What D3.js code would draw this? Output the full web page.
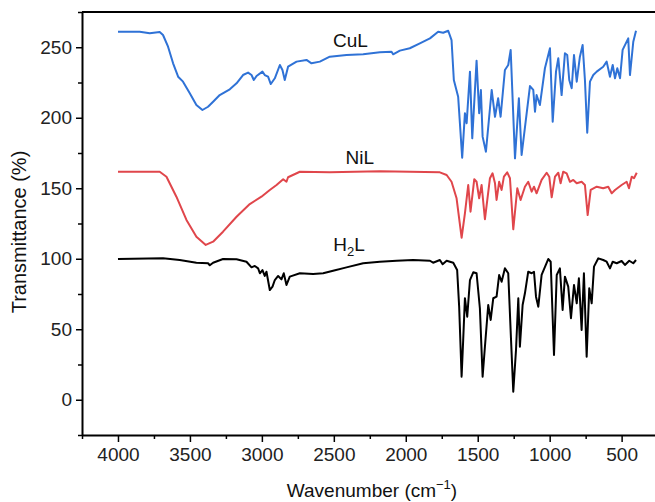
<!DOCTYPE html>
<html lang="en">
<head>
    <meta charset="UTF-8">
    <title>IR spectra</title>
    <script src="https://cdn.jsdelivr.net/npm/d3@7"></script>
    <style>
        body { margin: 0; background: #fff; }
        text { font-family: "Liberation Sans", Arial, sans-serif; }
    </style>
</head>
<body>
    <div id="chart"></div>

    <script>
        // spectra: [wavenumber, transmittance]
        const cuL = [[4000,261.0],[3849,261.0],[3779,259.9],[3710,260.8],[3687,258.7],[3652,250.4],[3617,238.6],[3582,229.1],[3548,225.6],[3501,217.3],[3455,209.1],[3413,205.5],[3374,207.8],[3339,211.4],[3293,216.1],[3223,220.2],[3176,224.4],[3131,230.3],[3096,232.0],[3072,230.3],[3056,226.8],[3037,229.6],[2996,232.7],[2980,230.3],[2957,229.1],[2938,223.9],[2910,228.0],[2875,237.4],[2857,233.9],[2841,226.8],[2818,236.2],[2759,239.8],[2690,241.0],[2655,238.6],[2597,239.8],[2528,243.3],[2412,244.5],[2296,245.0],[2180,246.4],[2099,246.8],[2088,245.0],[2041,247.6],[1972,249.3],[1902,252.8],[1832,256.3],[1775,261.0],[1740,260.3],[1705,261.7],[1682,255.1],[1666,226.8],[1636,214.9],[1608,171.7],[1589,203.2],[1577,196.1],[1554,232.7],[1538,185.4],[1508,240.5],[1490,203.2],[1478,219.7],[1466,186.6],[1443,175.9],[1403,219.7],[1380,200.7],[1358,213.8],[1341,200.7],[1311,233.9],[1288,237.4],[1271,248.1],[1241,171.2],[1214,213.8],[1195,173.6],[1137,222.5],[1114,219.7],[1102,204.3],[1091,216.1],[1068,209.0],[1033,235.1],[998,249.3],[979,197.2],[956,232.7],[940,242.2],[917,216.1],[894,245.7],[878,244.5],[864,226.8],[847,220.9],[831,244.5],[812,225.6],[790,243.3],[771,251.6],[755,226.8],[739,189.4],[720,225.6],[697,230.3],[673,232.7],[628,236.2],[604,239.8],[581,229.1],[562,237.4],[546,228.0],[530,235.1],[511,228.0],[493,248.1],[454,256.3],[442,230.3],[419,253.9],[400,261.7]];

        const niL = [[4000,161.7],[3710,161.7],[3663,158.2],[3594,144.0],[3524,127.5],[3455,115.6],[3390,109.8],[3339,112.1],[3270,119.2],[3176,129.8],[3084,138.8],[3003,144.0],[2945,148.8],[2898,152.3],[2852,156.4],[2829,154.6],[2818,157.8],[2736,161.7],[2528,161.3],[2180,162.0],[1763,161.3],[1716,159.4],[1682,154.6],[1647,142.9],[1612,114.9],[1589,132.2],[1566,152.3],[1550,133.4],[1524,156.4],[1508,154.6],[1490,142.9],[1473,152.3],[1450,128.0],[1415,157.1],[1397,160.6],[1380,153.5],[1369,141.7],[1351,154.6],[1334,148.8],[1318,158.2],[1295,161.3],[1276,157.1],[1253,120.9],[1225,150.0],[1202,141.7],[1172,151.1],[1149,154.6],[1125,147.6],[1109,151.1],[1091,146.4],[1056,155.9],[1021,161.0],[1003,158.2],[986,143.6],[963,158.2],[940,161.0],[924,153.5],[906,161.7],[882,160.6],[859,154.6],[836,155.9],[812,153.5],[778,154.6],[755,152.3],[736,131.0],[715,148.8],[673,151.1],[628,150.0],[593,151.1],[569,146.4],[546,148.8],[500,152.3],[465,154.6],[449,150.0],[430,158.2],[414,157.1],[395,161.0]];

        const h2L = [[4000,99.8],[3687,100.3],[3571,99.1],[3455,97.2],[3374,96.8],[3362,95.4],[3339,97.2],[3270,99.8],[3176,99.6],[3107,97.9],[3072,93.9],[3049,94.9],[3026,93.2],[3014,89.7],[2996,92.0],[2980,87.8],[2968,90.8],[2945,77.8],[2926,80.2],[2910,84.9],[2887,87.8],[2864,85.4],[2848,89.7],[2829,81.4],[2806,87.3],[2736,89.7],[2644,89.2],[2574,89.7],[2505,91.5],[2412,93.9],[2296,96.8],[2180,97.9],[2064,98.6],[1949,99.1],[1832,98.6],[1810,97.2],[1763,99.1],[1744,96.1],[1716,98.6],[1670,97.2],[1643,92.0],[1629,66.0],[1612,16.4],[1601,42.4],[1589,72.0],[1573,58.9],[1554,84.9],[1531,90.4],[1508,89.7],[1485,64.9],[1466,16.4],[1450,37.6],[1427,67.2],[1410,56.6],[1392,72.0],[1369,73.1],[1351,88.5],[1334,83.7],[1311,93.2],[1288,89.7],[1269,43.6],[1253,5.7],[1234,35.3],[1218,72.0],[1207,37.6],[1188,67.2],[1172,75.5],[1149,90.8],[1125,89.7],[1109,90.8],[1095,73.1],[1079,66.0],[1056,88.5],[1010,99.8],[993,97.9],[970,31.7],[951,88.5],[929,93.2],[910,63.7],[894,87.3],[871,80.2],[852,57.8],[831,81.4],[812,68.4],[797,86.1],[778,49.5],[762,89.7],[743,30.5],[725,79.0],[708,68.4],[692,94.4],[662,100.3],[628,99.1],[604,97.9],[581,93.2],[562,97.9],[534,96.8],[500,98.4],[477,95.6],[447,98.6],[419,96.8],[400,99.1]];

        const seriesNames = ["CuL", "NiL", "H2L"];
        const seriesColors = ["#2f72d6", "#e0464b", "#000000"];
        // label anchor points [wavenumber, transmittance]
        const labelAt = [[2385, 250], [2320, 167.5], [2395, 105.5]];

        const xTicks = [4000, 3500, 3000, 2500, 2000, 1500, 1000, 500];
        const xMinor = [4250, 3750, 3250, 2750, 2250, 1750, 1250, 750];
        const yTicks = [0, 50, 100, 150, 200, 250];
        const yMinor = [-25, 25, 75, 125, 175, 225, 275];

        const W = 655, H = 502;
        const margin = {top: 12, left: 82};
        const plotW = 575.6, plotH = 423;

        const svg = d3.select("#chart").append("svg")
            .attr("width", W)
            .attr("height", H);

        const g = svg.append("g")
            .attr("transform", `translate(${margin.left},${margin.top})`);

        const x = d3.scaleLinear().domain([4250, 250]).range([0, plotW]);
        const y = d3.scaleLinear().domain([-25, 275]).range([plotH, 0]);

        // spectra
        const line = d3.line()
            .x(d => x(d[0]))
            .y(d => y(d[1]));

        [cuL, niL, h2L].forEach((s, i) => {
            g.append("path")
                .datum(s)
                .attr("fill", "none")
                .attr("stroke", seriesColors[i])
                .attr("stroke-width", 2)
                .attr("stroke-linejoin", "round")
                .attr("d", line);
        });

        // axes
        g.append("g")
            .attr("transform", `translate(0,${plotH})`)
            .call(d3.axisBottom(x).tickValues(xTicks).tickFormat(d3.format("d"))
                .tickSize(7).tickPadding(6).tickSizeOuter(0));
        g.append("g")
            .attr("transform", `translate(0,${plotH})`)
            .call(d3.axisBottom(x).tickValues(xMinor).tickSize(4).tickFormat("").tickSizeOuter(0))
            .select(".domain").remove();

        g.append("g")
            .call(d3.axisLeft(y).tickValues(yTicks).tickFormat(d3.format("d"))
                .tickSize(6).tickPadding(4).tickSizeOuter(0));
        g.append("g")
            .call(d3.axisLeft(y).tickValues(yMinor).tickSize(4).tickFormat("").tickSizeOuter(0))
            .select(".domain").remove();

        // top frame
        g.append("line")
            .attr("x1", 0).attr("x2", plotW)
            .attr("y1", 0).attr("y2", 0)
            .attr("stroke", "#000")
            .attr("stroke-width", 2);

        g.selectAll(".domain").attr("stroke-width", 2);
        g.selectAll(".tick line").attr("stroke-width", 1.5);
        g.selectAll(".tick text")
            .attr("font-size", 19)
            .attr("fill", "#222");

        // series labels
        labelAt.forEach((p, i) => {
            const t = g.append("text")
                .attr("x", x(p[0]))
                .attr("y", y(p[1]))
                .attr("text-anchor", "middle")
                .attr("font-size", 19)
                .attr("fill", "#111");
            if (seriesNames[i] === "H2L") {
                t.append("tspan").text("H");
                t.append("tspan").attr("font-size", 13).attr("dy", 5).text("2");
                t.append("tspan").attr("dy", -5).text("L");
            } else {
                t.text(seriesNames[i]);
            }
        });

        // axis titles
        const xt = svg.append("text")
            .attr("x", 372)
            .attr("y", 497)
            .attr("text-anchor", "middle")
            .attr("font-size", 19)
            .attr("fill", "#111");
        xt.append("tspan").text("Wavenumber (cm");
        xt.append("tspan").attr("font-size", 13).attr("dy", -8).text("\u22121");
        xt.append("tspan").attr("dy", 8).text(")");

        svg.append("text")
            .attr("transform", "translate(26,232) rotate(-90)")
            .attr("text-anchor", "middle")
            .attr("font-size", 20)
            .attr("fill", "#111")
            .text("Transmittance (%)");
    </script>
</body>
</html>
